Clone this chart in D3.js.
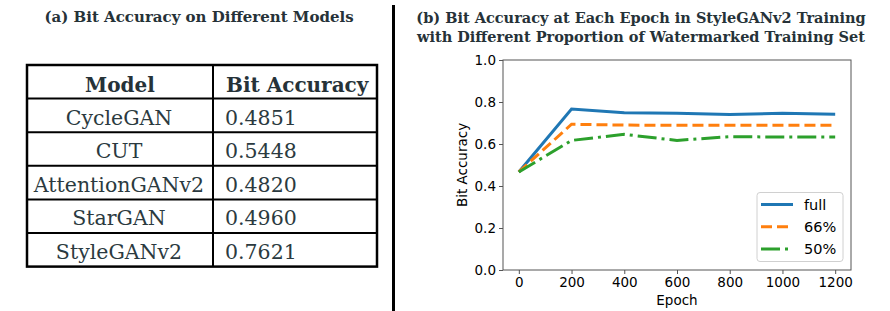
<!DOCTYPE html>
<html>
<head>
<meta charset="utf-8">
<script src="https://cdn.jsdelivr.net/npm/d3@7"></script>
<style>
  body { margin: 0; background: #fff; }
  svg { display: block; }
</style>
</head>
<body>
<div id="vis"></div>
<script>
// table data (panel a)
const models = ["CycleGAN", "CUT", "AttentionGANv2", "StarGAN", "StyleGANv2"]
const bitAccuracy = [0.4851, 0.5448, 0.4820, 0.4960, 0.7621]
const tableHeader = ["Model", "Bit Accuracy"]

// line chart data (panel b)
const epochs = [0, 200, 400, 600, 800, 1000, 1200]
const fullSet = [0.467, 0.767, 0.749, 0.746, 0.741, 0.746, 0.742]
const set66 = [0.467, 0.694, 0.690, 0.689, 0.689, 0.689, 0.689]
const set50 = [0.467, 0.617, 0.646, 0.617, 0.635, 0.633, 0.633]
const seriesNames = ["full", "66%", "50%"]
const yTicks = [0, 0.2, 0.4, 0.6, 0.8, 1.0]
const xTicks = [0, 200, 400, 600, 800, 1000, 1200]

const width = 890
const height = 311
const titleColour = "#263238"
const serif = "'DejaVu Serif', 'Liberation Serif', serif"
const sans = "'DejaVu Sans', sans-serif"

const svg = d3.select("#vis").append("svg")
  .attr("width", width)
  .attr("height", height)

// ---------- panel (a): table ----------
svg.append("text")
  .attr("x", 199)
  .attr("y", 22)
  .attr("text-anchor", "middle")
  .attr("font-family", serif)
  .attr("font-weight", "bold")
  .attr("font-size", 15)
  .attr("fill", titleColour)
  .text("(a) Bit Accuracy on Different Models")

const table = { left: 27, right: 377, top: 65, split: 213 }
const rowH = d3.scaleBand()
  .domain(d3.range(models.length + 1))
  .range([table.top, table.top + 33.6 * (models.length + 1)])

const tg = svg.append("g")

// header + rows text
tg.append("text")
  .attr("x", (table.left + table.split) / 2)
  .attr("y", rowH(0) + 26.5)
  .attr("text-anchor", "middle")
  .attr("font-family", serif)
  .attr("font-weight", "bold")
  .attr("font-size", 20)
  .attr("fill", titleColour)
  .text(tableHeader[0])

tg.append("text")
  .attr("x", table.split + 13)
  .attr("y", rowH(0) + 26.5)
  .attr("font-family", serif)
  .attr("font-weight", "bold")
  .attr("font-size", 20)
  .attr("fill", titleColour)
  .text(tableHeader[1])

const rows = models.map((m, i) => ({ model: m, acc: bitAccuracy[i], row: i + 1 }))

tg.selectAll("text.model")
  .data(rows)
  .join("text")
  .attr("class", "model")
  .attr("x", (table.left + table.split) / 2 - 1)
  .attr("y", d => rowH(d.row) + 26)
  .attr("text-anchor", "middle")
  .attr("font-family", serif)
  .attr("font-size", 20.5)
  .attr("fill", "#2b3a40")
  .text(d => d.model)

tg.selectAll("text.acc")
  .data(rows)
  .join("text")
  .attr("class", "acc")
  .attr("x", table.split + 12)
  .attr("y", d => rowH(d.row) + 26)
  .attr("font-family", serif)
  .attr("font-size", 20.5)
  .attr("fill", "#2b3a40")
  .text(d => d3.format(".4f")(d.acc))

// grid lines
const tableBottom = rowH.range()[1]
tg.selectAll("line.hrow")
  .data(d3.range(1, models.length + 1))
  .join("line")
  .attr("x1", table.left).attr("x2", table.right)
  .attr("y1", d => rowH(d)).attr("y2", d => rowH(d))
  .attr("stroke", "#000")
  .attr("stroke-width", 2)

tg.append("line")
  .attr("x1", table.split).attr("x2", table.split)
  .attr("y1", table.top).attr("y2", tableBottom)
  .attr("stroke", "#000")
  .attr("stroke-width", 2)

tg.append("rect")
  .attr("x", table.left).attr("y", table.top)
  .attr("width", table.right - table.left)
  .attr("height", tableBottom - table.top)
  .attr("fill", "none")
  .attr("stroke", "#000")
  .attr("stroke-width", 2.5)

// divider between panels
svg.append("line")
  .attr("x1", 393.5).attr("x2", 393.5)
  .attr("y1", 5).attr("y2", height)
  .attr("stroke", "#000")
  .attr("stroke-width", 3)

// ---------- panel (b): line chart ----------
const titleLines = [
  "(b) Bit Accuracy at Each Epoch in StyleGANv2 Training",
  "with Different Proportion of Watermarked Training Set"
]
svg.append("g").selectAll("text")
  .data(titleLines)
  .join("text")
  .attr("x", 641)
  .attr("y", (d, i) => 23 + i * 19)
  .attr("text-anchor", "middle")
  .attr("font-family", serif)
  .attr("font-weight", "bold")
  .attr("font-size", 14.5)
  .attr("fill", titleColour)
  .text(d => d)

const plot = { left: 503, right: 851, top: 60, bottom: 270 }

const x = d3.scaleLinear()
  .domain([-60, 1260])
  .range([plot.left, plot.right])

const y = d3.scaleLinear()
  .domain([0, 1])
  .range([plot.bottom, plot.top])

const axisColour = "#555"
const tickFont = 13.5

svg.append("g")
  .attr("transform", `translate(0,${plot.bottom})`)
  .call(d3.axisBottom(x).tickValues(xTicks).tickFormat(d3.format("d")).tickSize(4).tickPadding(3).tickSizeOuter(0))
  .call(g => g.select(".domain").remove())
  .call(g => g.selectAll(".tick line").attr("stroke", axisColour))
  .call(g => g.selectAll(".tick text")
    .attr("font-family", sans)
    .attr("font-size", tickFont)
    .attr("fill", "#000"))

svg.append("g")
  .attr("transform", `translate(${plot.left},0)`)
  .call(d3.axisLeft(y).tickValues(yTicks).tickFormat(d3.format(".1f")).tickSize(4).tickPadding(3).tickSizeOuter(0))
  .call(g => g.select(".domain").remove())
  .call(g => g.selectAll(".tick line").attr("stroke", axisColour))
  .call(g => g.selectAll(".tick text")
    .attr("font-family", sans)
    .attr("font-size", tickFont)
    .attr("fill", "#000"))

svg.append("rect")
  .attr("x", plot.left).attr("y", plot.top)
  .attr("width", plot.right - plot.left)
  .attr("height", plot.bottom - plot.top)
  .attr("fill", "none")
  .attr("stroke", axisColour)
  .attr("stroke-width", 1)

// axis labels
svg.append("text")
  .attr("x", (plot.left + plot.right) / 2)
  .attr("y", 305)
  .attr("text-anchor", "middle")
  .attr("font-family", sans)
  .attr("font-size", tickFont)
  .text("Epoch")

svg.append("text")
  .attr("transform", `translate(467,${(plot.top + plot.bottom) / 2}) rotate(-90)`)
  .attr("text-anchor", "middle")
  .attr("font-family", sans)
  .attr("font-size", tickFont)
  .text("Bit Accuracy")

// series
const series = [
  { name: seriesNames[0], values: fullSet, colour: "#1f77b4", dash: null },
  { name: seriesNames[1], values: set66, colour: "#ff7f0e", dash: "11,5" },
  { name: seriesNames[2], values: set50, colour: "#2ca02c", dash: "19,5,3,5" }
]

const line = d3.line()
  .x((d, i) => x(epochs[i]))
  .y(d => y(d))

svg.append("g")
  .selectAll("path")
  .data(series)
  .join("path")
  .attr("d", d => line(d.values))
  .attr("fill", "none")
  .attr("stroke", d => d.colour)
  .attr("stroke-width", 3)
  .attr("stroke-dasharray", d => d.dash)

// legend
const legend = svg.append("g")
legend.append("rect")
  .attr("x", 757).attr("y", 192.5)
  .attr("width", 86).attr("height", 69)
  .attr("rx", 3)
  .attr("fill", "#fff")
  .attr("fill-opacity", 0.8)
  .attr("stroke", "#d0d0d0")

const legendY = d3.scalePoint()
  .domain(seriesNames)
  .range([204.5, 249])

const items = legend.selectAll("g.item")
  .data(series)
  .join("g")
  .attr("class", "item")
  .attr("transform", d => `translate(0,${legendY(d.name)})`)

items.append("line")
  .attr("x1", 761).attr("x2", 793)
  .attr("stroke", d => d.colour)
  .attr("stroke-width", 3)
  .attr("stroke-dasharray", d => d.dash)

items.append("text")
  .attr("x", 804)
  .attr("dy", "0.35em")
  .attr("font-family", sans)
  .attr("font-size", 14.5)
  .text(d => d.name)
</script>
</body>
</html>
